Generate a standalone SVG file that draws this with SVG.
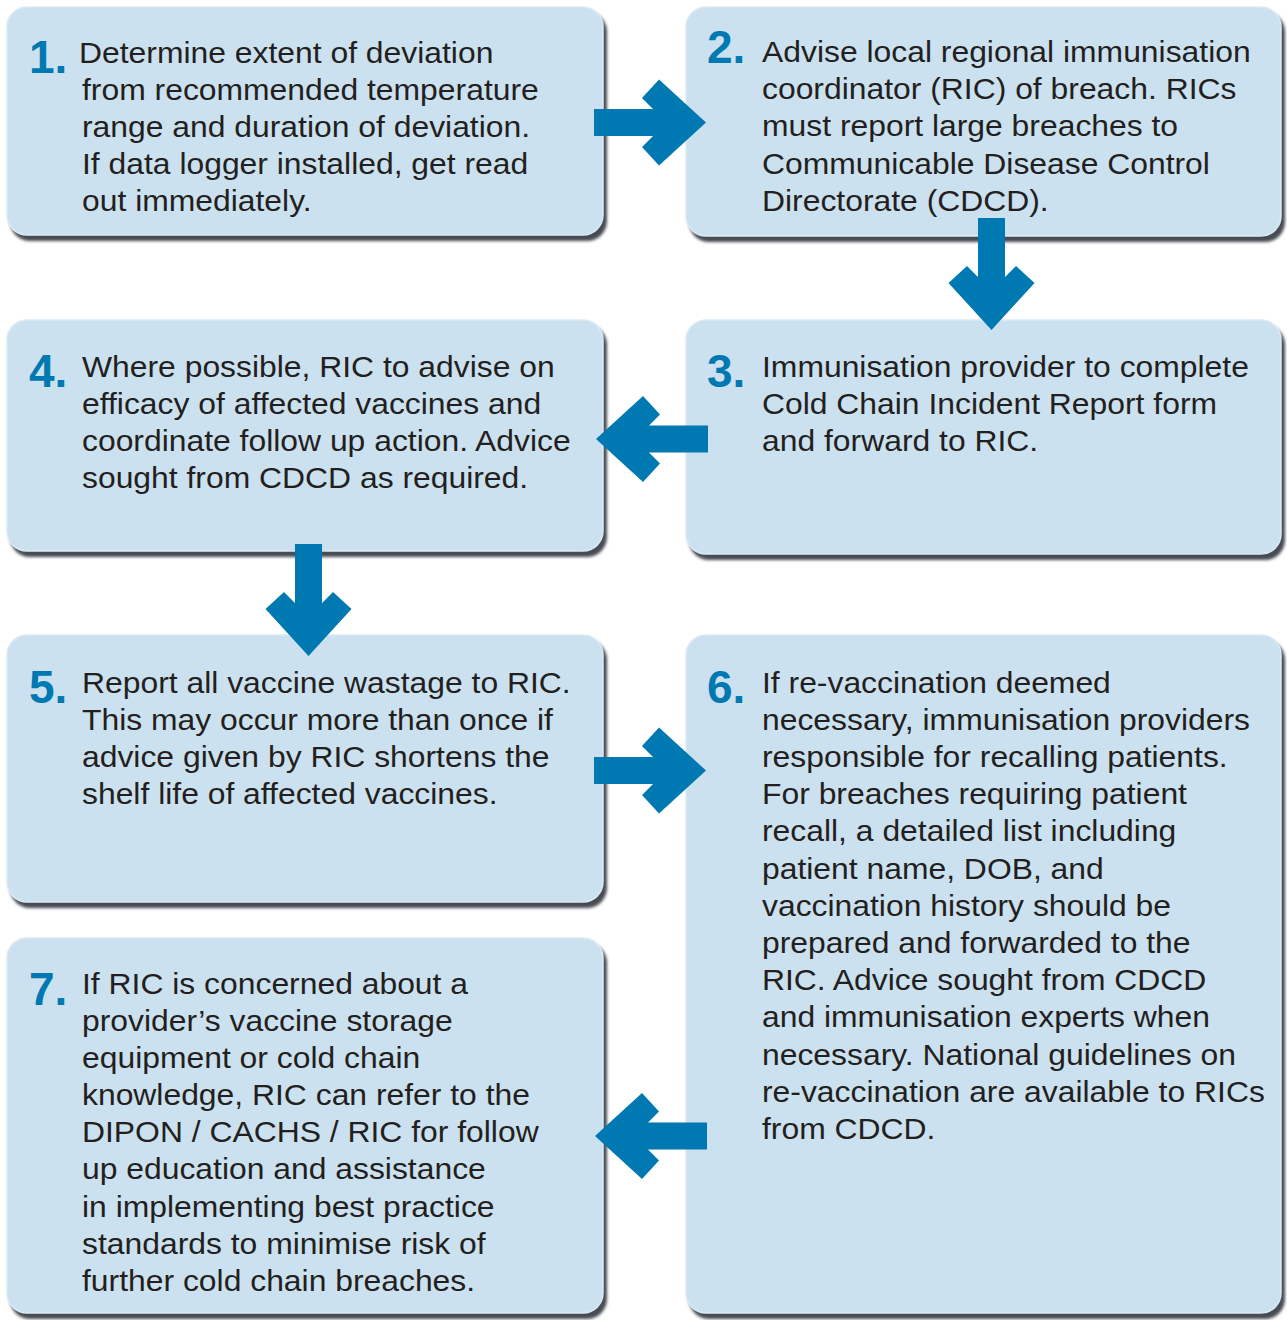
<svg xmlns="http://www.w3.org/2000/svg" xmlns:xlink="http://www.w3.org/1999/xlink" width="1287" height="1320" viewBox="0 0 1287 1320">
<defs>
<filter id="sh" x="-5%" y="-5%" width="110%" height="110%">
<feGaussianBlur stdDeviation="1.6"/>
</filter>
<path id="arr" d="M -112,-13.5 L -53,-13.5 L -64,-24.5 L -47,-43 L 0,0 L -47,43 L -64,24.5 L -53,13.5 L -112,13.5 Z"/>
</defs>
<style>
.shadow{fill:#474c53;filter:url(#sh)}
.box{fill:#cce1ef;stroke:#dbe9f4;stroke-width:1.5}
.num{font-family:"Liberation Sans",Arial,sans-serif;font-weight:bold;font-size:46px;fill:#0079b2}
.t{font-family:"Liberation Sans",Arial,sans-serif;font-size:29px;fill:#231f20}
.arrow{fill:#0079b2}
</style>
<rect width="1287" height="1320" fill="#ffffff"/>

<g id="node1">
<rect class="shadow" x="10" y="12" width="597" height="229" rx="20"/>
<rect class="box" x="7" y="7" width="596" height="228" rx="20"/>
<text class="num" x="29" y="73">1.</text>
<text class="t" transform="translate(82 0) scale(1.099 1)"><tspan x="-2.7" y="63">Determine extent of deviation</tspan><tspan x="0" y="100">from recommended temperature</tspan><tspan x="0" y="137">range and duration of deviation.</tspan><tspan x="0" y="174.5">If data logger installed, get read</tspan><tspan x="0" y="211.5">out immediately.</tspan></text>
</g>

<g id="node2">
<rect class="shadow" x="689" y="12" width="596" height="230" rx="20"/>
<rect class="box" x="686" y="7" width="595" height="229" rx="20"/>
<text class="num" x="707" y="63">2.</text>
<text class="t" transform="translate(762 0) scale(1.099 1)"><tspan x="0" y="62">Advise local regional immunisation</tspan><tspan x="0" y="99">coordinator (RIC) of breach. RICs</tspan><tspan x="0" y="136.5">must report large breaches to</tspan><tspan x="0" y="174">Communicable Disease Control</tspan><tspan x="0" y="211">Directorate (CDCD).</tspan></text>
</g>

<g id="node3">
<rect class="shadow" x="689" y="325" width="596" height="235" rx="20"/>
<rect class="box" x="686" y="320" width="595" height="234" rx="20"/>
<text class="num" x="707" y="387">3.</text>
<text class="t" transform="translate(762 0) scale(1.099 1)"><tspan x="0" y="377">Immunisation provider to complete</tspan><tspan x="0" y="414">Cold Chain Incident Report form</tspan><tspan x="0" y="451">and forward to RIC.</tspan></text>
</g>

<g id="node4">
<rect class="shadow" x="10" y="325" width="597" height="232" rx="20"/>
<rect class="box" x="7" y="320" width="596" height="231" rx="20"/>
<text class="num" x="29" y="387">4.</text>
<text class="t" transform="translate(82 0) scale(1.099 1)"><tspan x="0" y="377">Where possible, RIC to advise on</tspan><tspan x="0" y="414">efficacy of affected vaccines and</tspan><tspan x="0" y="451">coordinate follow up action. Advice</tspan><tspan x="0" y="488">sought from CDCD as required.</tspan></text>
</g>

<g id="node5">
<rect class="shadow" x="10" y="640" width="597" height="268" rx="20"/>
<rect class="box" x="7" y="635" width="596" height="267" rx="20"/>
<text class="num" x="29" y="703">5.</text>
<text class="t" transform="translate(82 0) scale(1.099 1)"><tspan x="0" y="693">Report all vaccine wastage to RIC.</tspan><tspan x="0" y="730">This may occur more than once if</tspan><tspan x="0" y="767">advice given by RIC shortens the</tspan><tspan x="0" y="804">shelf life of affected vaccines.</tspan></text>
</g>

<g id="node6">
<rect class="shadow" x="689" y="640" width="596" height="679" rx="20"/>
<rect class="box" x="686" y="635" width="595" height="678" rx="20"/>
<text class="num" x="707" y="703">6.</text>
<text class="t" transform="translate(762 0) scale(1.099 1)"><tspan x="0" y="693">If re-vaccination deemed</tspan><tspan x="0" y="730">necessary, immunisation providers</tspan><tspan x="0" y="767">responsible for recalling patients.</tspan><tspan x="0" y="804.5">For breaches requiring patient</tspan><tspan x="0" y="841.5">recall, a detailed list including</tspan><tspan x="0" y="879">patient name, DOB, and</tspan><tspan x="0" y="916">vaccination history should be</tspan><tspan x="0" y="953">prepared and forwarded to the</tspan><tspan x="0" y="990.5">RIC. Advice sought from CDCD</tspan><tspan x="0" y="1027.5">and immunisation experts when</tspan><tspan x="0" y="1065">necessary. National guidelines on</tspan><tspan x="0" y="1102">re-vaccination are available to RICs</tspan><tspan x="0" y="1139">from CDCD.</tspan></text>
</g>

<g id="node7">
<rect class="shadow" x="10" y="943" width="597" height="376" rx="20"/>
<rect class="box" x="7" y="938" width="596" height="375" rx="20"/>
<text class="num" x="29" y="1005">7.</text>
<text class="t" transform="translate(82 0) scale(1.099 1)"><tspan x="0" y="994">If RIC is concerned about a</tspan><tspan x="0" y="1031">provider’s vaccine storage</tspan><tspan x="0" y="1068">equipment or cold chain</tspan><tspan x="0" y="1105">knowledge, RIC can refer to the</tspan><tspan x="0" y="1142.5">DIPON / CACHS / RIC for follow</tspan><tspan x="0" y="1179.5">up education and assistance</tspan><tspan x="0" y="1217">in implementing best practice</tspan><tspan x="0" y="1254">standards to minimise risk of</tspan><tspan x="0" y="1291">further cold chain breaches.</tspan></text>
</g>

<g id="connectors" class="arrow">
<use xlink:href="#arr" href="#arr" transform="translate(706,122.5)"/>
<use xlink:href="#arr" href="#arr" transform="translate(991.5,330) rotate(90)"/>
<use xlink:href="#arr" href="#arr" transform="translate(596,439) rotate(180)"/>
<use xlink:href="#arr" href="#arr" transform="translate(308.5,656) rotate(90)"/>
<use xlink:href="#arr" href="#arr" transform="translate(706,770.5)"/>
<use xlink:href="#arr" href="#arr" transform="translate(595,1136) rotate(180)"/>
</g>
</svg>
